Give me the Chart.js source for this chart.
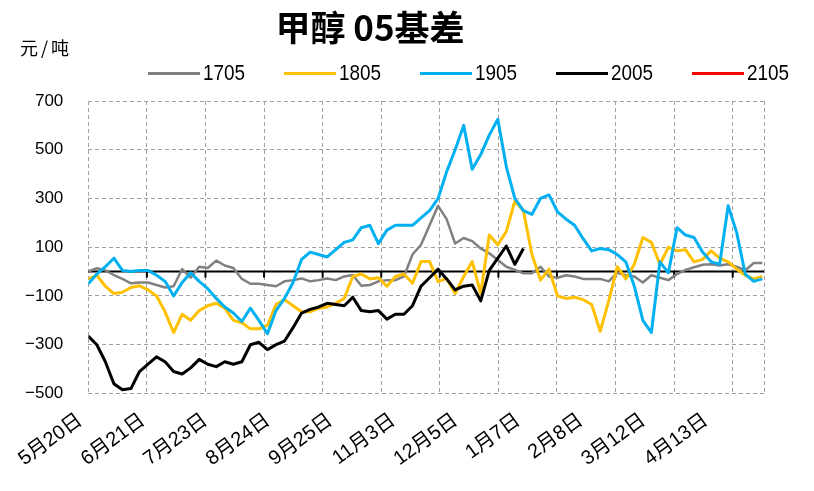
<!DOCTYPE html>
<html>
<head>
<meta charset="utf-8">
<script src="https://cdn.jsdelivr.net/npm/chart.js@4"></script>
<style>
  body { margin: 0; background: #fff; }
  #wrap { position: relative; width: 814px; height: 491px; }
  #title { position: absolute; left: 0; top: 5px; width: 740px; text-align: center;
           font: bold 35px "Noto Sans CJK SC"; line-height: 42px; color: #000; }
  #unit { position: absolute; left: 20px; top: 36px; font: 18px "Noto Sans CJK SC"; line-height: 22px;
          letter-spacing: 3px; color: #000; }
  #legend { position: absolute; left: 148px; top: 60px; display: flex; }
  .item { display: flex; align-items: center; width: 136px; color: #000; line-height: 24px; }
  .swatch { width: 52px; height: 3px; margin-right: 3px; }
  .txt { font: 22px "Liberation Sans Narrow", "Liberation Sans"; display: inline-block;
         transform: scaleX(0.86); transform-origin: left center; }
</style>
</head>
<body>
<div id="wrap">
  <canvas id="chart" width="814" height="491"></canvas>
  <div id="title">甲醇 05基差</div>
  <div id="unit">元/吨</div>
  <div id="legend"></div>
</div>
<script>
// x axis is in trading days; one label every 22 days
const tickLabels = ['5月20日', '6月21日', '7月23日', '8月24日', '9月25日', '11月3日',
                    '12月5日', '1月7日', '2月8日', '3月12日', '4月13日'];
const labelDays = [0, 22, 44, 66, 88, 110, 132, 154, 176, 198, 220];
const gridDays = [0, 20.6, 41.2, 61.8, 82.4, 103, 123.6, 144.2, 164.8, 185.4, 206, 226.6, 237.6];
const dayStep = 3; // one value every 3 trading days

const s1705 = [0, 14, 5, -14, -30, -48, -45, -45, -55, -65, -60, 10, -25, 20, 15, 45, 25, 15, -30, -50,
  -50, -55, -60, -40, -35, -28, -40, -35, -28, -35, -20, -14, -58, -55, -40, -35, -35, -20, 70, 110,
  190, 270, 215, 115, 138, 125, 95, 75, 48, 20, 7, -7, -7, 20, -20, -25, -15, -20, -30, -30,
  -30, -40, -5, -15, -20, -45, -15, -25, -35, -10, 7, 18, 28, 30, 25, 30, 20, 5, 35, 35];

const s1805 = [-30, -15, -60, -90, -85, -65, -58, -75, -100, -165, -250, -175, -200, -160, -140, -130, -150, -200, -210, -235,
  -235, -220, -135, -115, -140, -165, -165, -150, -145, -130, -110, -20, -10, -30, -25, -60, -20, -10, -48, 41,
  41, -41, -28, -90, -20, 41, -90, 150, 110, 165, 290, 250, 70, -35, 10, -100, -110, -105, -115, -135,
  -245, -120, 20, -30, 30, 140, 120, 30, 100, 85, 90, 40, 50, 85, 55, 40, 10, -15, -30, -20];

const s1905 = [-50, -10, 20, 55, 5, 0, 5, 5, -15, -40, -100, -45, -5, -40, -70, -110, -145, -170, -205, -150,
  -200, -255, -160, -110, -45, 50, 80, 70, 60, 90, 120, 130, 180, 190, 115, 170, 190, 190, 190, 220,
  250, 300, 410, 500, 600, 420, 480, 560, 625, 430, 300, 250, 235, 300, 315, 245, 215, 190, 135, 85,
  95, 90, 70, 40, -60, -200, -250, 40, -5, 180, 150, 140, 80, 40, 30, 270, 160, -10, -40, -30];

const s2005 = [-265, -300, -370, -460, -485, -480, -410, -380, -350, -370, -410, -420, -395, -360, -380, -390, -370, -380, -370, -300,
  -290, -320, -300, -285, -230, -170, -155, -145, -130, -135, -140, -105, -160, -165, -160, -195, -175, -175, -140, -60,
  -25, 10, -30, -75, -60, -55, -120, 5, 55, 105, 30, 95];

const s2105 = [];

function toPoints(values) {
  return values.map((v, i) => ({ x: i * dayStep, y: v }));
}

const zeroLine = {
  id: 'zeroLine',
  beforeDatasetsDraw(chart) {
    const { ctx, chartArea, scales } = chart;
    const y0 = scales.y.getPixelForValue(0);
    ctx.save();
    ctx.strokeStyle = '#000';
    ctx.lineWidth = 2;
    ctx.beginPath();
    ctx.moveTo(chartArea.left, y0);
    ctx.lineTo(chartArea.right, y0);
    ctx.stroke();
    // small tick marks under the zero line
    scales.xg.ticks.slice(1, -1).forEach(t => {
      const x = scales.xg.getPixelForValue(t.value);
      ctx.beginPath();
      ctx.moveTo(x, y0);
      ctx.lineTo(x, y0 + 6);
      ctx.stroke();
    });
    ctx.restore();
  }
};

const htmlLegend = {
  id: 'htmlLegend',
  afterUpdate(chart) {
    const box = document.getElementById('legend');
    box.innerHTML = '';
    chart.data.datasets.forEach(ds => {
      const item = document.createElement('div');
      item.className = 'item';
      const sw = document.createElement('span');
      sw.className = 'swatch';
      sw.style.background = ds.borderColor;
      const txt = document.createElement('span');
      txt.className = 'txt';
      txt.textContent = ds.label;
      item.appendChild(sw);
      item.appendChild(txt);
      box.appendChild(item);
    });
  }
};

new Chart(document.getElementById('chart'), {
  type: 'line',
  data: {
    datasets: [
      { label: '1705', data: toPoints(s1705), borderColor: '#808080', borderWidth: 2.5, order: 5 },
      { label: '1805', data: toPoints(s1805), borderColor: '#FFC000', borderWidth: 3, order: 4 },
      { label: '1905', data: toPoints(s1905), borderColor: '#00B0F0', borderWidth: 3, order: 3 },
      { label: '2005', data: toPoints(s2005), borderColor: '#000000', borderWidth: 3, order: 2 },
      { label: '2105', data: toPoints(s2105), borderColor: '#FF0000', borderWidth: 3, order: 1 }
    ]
  },
  options: {
    responsive: false,
    animation: false,
    events: [],
    elements: { point: { radius: 0 }, line: { tension: 0, borderJoinStyle: 'round' } },
    layout: { padding: { top: 101, left: 0, right: 50, bottom: 5 } },
    scales: {
      x: {
        type: 'linear', position: 'bottom', min: 0, max: 237.6,
        afterBuildTicks: s => { s.ticks = labelDays.map(v => ({ value: v })); },
        ticks: {
          autoSkip: false, minRotation: 36, maxRotation: 36, padding: 15, labelOffset: -8, color: '#000',
          font: { size: 20, family: '"Liberation Sans", "Noto Sans CJK SC", Arial' },
          callback: (v, i) => tickLabels[i]
        },
        grid: { display: false, drawTicks: false },
        border: { display: false }
      },
      xg: {
        type: 'linear', position: 'bottom', min: 0, max: 237.6,
        afterBuildTicks: s => { s.ticks = gridDays.map(v => ({ value: v })); },
        ticks: { display: false },
        grid: { color: '#a0a0a0', drawTicks: false },
        border: { display: false, dash: [4, 3] }
      },
      y: {
        min: -500, max: 700,
        ticks: {
          stepSize: 200, padding: 25, color: '#000',
          font: { size: 17, family: '"Liberation Sans", Arial' },
          callback: v => v < 0 ? '\u2212' + Math.abs(v) : String(v)
        },
        grid: { color: '#a0a0a0', drawTicks: false },
        border: { display: false, dash: [4, 3] }
      }
    },
    plugins: {
      legend: { display: false },
      title: { display: false },
      tooltip: { enabled: false }
    }
  },
  plugins: [zeroLine, htmlLegend]
});
</script>
</body>
</html>
